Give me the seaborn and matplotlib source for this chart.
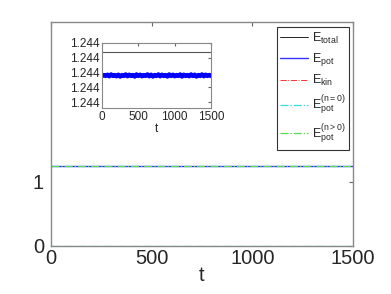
import matplotlib
matplotlib.use("Agg")
import matplotlib.pyplot as plt
import seaborn as sns
from matplotlib.ticker import FormatStrFormatter

# time axis of the runs
t_main = [0, 500, 1000, 1500]
t_inset = list(range(0, 1525, 25))

# energies (main panel, roughly constant)
e_total = [1.24407, 1.24407, 1.24407, 1.24407]
e_pot = [1.24399, 1.24399, 1.24399, 1.24399]
e_kin = [0.00001, 0.00001, 0.00001, 0.00001]
e_pot_n0 = [0.0, 0.0, 0.0, 0.0]
e_pot_np = [1.24399, 1.24399, 1.24399, 1.24399]

# zoomed view of E_total and E_pot
e_total_inset = [1.24407, 1.24407]
t_total_inset = [0, 1500]
t_start_inset = [0, 2]
e_start_inset = [1.243935, 1.243988]
e_pot_inset = [
    1.243988, 1.243992, 1.243988, 1.243993, 1.243987, 1.243994, 1.243988, 1.243992,
    1.243987, 1.243993, 1.243986, 1.243992, 1.243988, 1.243994, 1.243987, 1.243993,
    1.243988, 1.243992, 1.243986, 1.243994, 1.243988, 1.243993, 1.243987, 1.243992,
    1.243988, 1.243994, 1.243987, 1.243993, 1.243986, 1.243992, 1.243988, 1.243994,
    1.243987, 1.243993, 1.243988, 1.243992, 1.243986, 1.243994, 1.243988, 1.243993,
    1.243987, 1.243992, 1.243988, 1.243994, 1.243986, 1.243993, 1.243988, 1.243992,
    1.243987, 1.243994, 1.243988, 1.243993, 1.243986, 1.243992, 1.243988, 1.243994,
    1.243987, 1.243993, 1.243988, 1.243992, 1.243988,
]
inset_yticks = [1.2439, 1.24395, 1.2440, 1.24405, 1.2441]

sns.set_style("white")
plt.rcParams["font.family"] = ["Liberation Sans", "DejaVu Sans"]
plt.rcParams["mathtext.fontset"] = "custom"
plt.rcParams["mathtext.rm"] = "Liberation Sans"
plt.rcParams["mathtext.it"] = "Liberation Sans"

fig = plt.figure(figsize=(3.91, 2.94), dpi=100)
ax = fig.add_axes([0.1304, 0.1633, 0.7724, 0.7619])

sns.lineplot(x=t_main, y=e_total, ax=ax, color="black", lw=0.6, label=r"E$_{total}$")
sns.lineplot(x=t_main, y=e_pot, ax=ax, color="#3333ff", lw=1.0, label=r"E$_{pot}$")
sns.lineplot(x=t_main, y=e_kin, ax=ax, color="#ff3333", lw=0.7, linestyle="-.", label=r"E$_{kin}$")
sns.lineplot(x=t_main, y=e_pot_n0, ax=ax, color="#33dddd", lw=0.9, linestyle="-.",
             label=r"E$_{pot}^{(n=0)}$")
sns.lineplot(x=t_main, y=e_pot_np, ax=ax, color="#55dd55", lw=0.9, linestyle="-.",
             label=r"E$_{pot}^{(n>0)}$")

ax.set_xlim(0, 1500)
ax.set_ylim(0, 3.5)
ax.set_xticks([0, 500, 1000, 1500])
ax.set_yticks([0, 1])
ax.tick_params(direction="in", length=3, labelsize=14.5, top=True, right=True, color="#666666", pad=2)
ax.tick_params(axis="y", pad=5)
for s in ax.spines.values():
    s.set_color("#888888")
    s.set_linewidth(1.0)
ax.set_xlabel("t", fontsize=14.5, labelpad=-1)
ax.set_ylabel("")

leg = ax.legend(loc="upper right", bbox_to_anchor=(0.9868, 0.9777), borderaxespad=0,
                fontsize=9, frameon=True, fancybox=False, handlelength=2.2,
                handletextpad=0.3, labelspacing=0.42, borderpad=0.3)
leg.get_frame().set_edgecolor("black")
leg.get_frame().set_linewidth(0.8)

# inset
axi = fig.add_axes([0.2609, 0.6327, 0.2788, 0.2211])
sns.lineplot(x=t_total_inset, y=e_total_inset, ax=axi, color="#555555", lw=0.8)
sns.lineplot(x=t_start_inset, y=e_start_inset, ax=axi, color="#0000ff", lw=0.8)
sns.lineplot(x=t_inset, y=e_pot_inset, ax=axi, color="#0000ff", lw=3.0)
axi.set_xlim(0, 1500)
axi.set_ylim(1.24388, 1.2441)
axi.set_xticks([0, 500, 1000, 1500])
axi.set_yticks(inset_yticks)
axi.yaxis.set_major_formatter(FormatStrFormatter("%.3f"))
axi.tick_params(direction="in", length=2, labelsize=8.5, top=True, right=True, color="#666666", pad=2)
for s in axi.spines.values():
    s.set_color("#888888")
    s.set_linewidth(0.8)
axi.set_xlabel("t", fontsize=8.5, labelpad=0)
axi.set_ylabel("")

fig.savefig("out.png", dpi=100)
